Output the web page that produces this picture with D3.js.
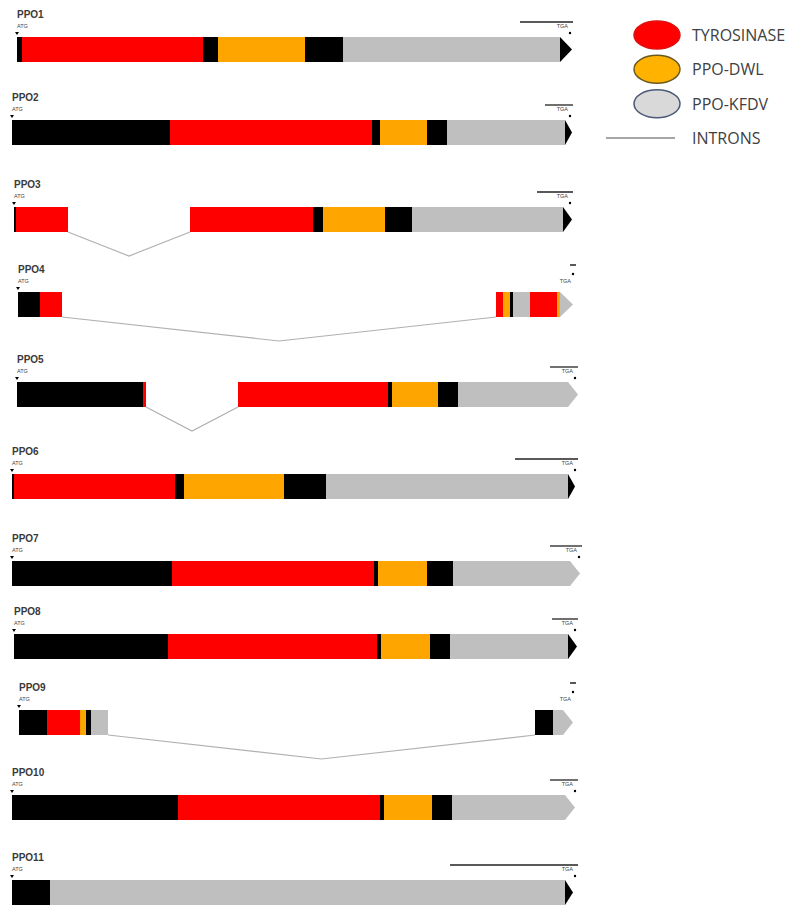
<!DOCTYPE html>
<html>
<head>
<meta charset="utf-8">
<script src="https://cdn.jsdelivr.net/npm/d3@7"></script>
<style>
  body { margin: 0; background: #fff; }
  svg { display: block; }
</style>
</head>
<body>
<div class="myBox"></div>
<script>

// gene names, one row each
var genes = ["PPO1","PPO2","PPO3","PPO4","PPO5","PPO6","PPO7","PPO8","PPO9","PPO10","PPO11"];

// exons per gene, each exon is a list of [start, end, domain]
// X = other, T = tyrosinase, D = PPO-DWL, K = PPO-KFDV
var exons = [
  [[[17,22,"X"],[22,203,"T"],[203,218,"X"],[218,305,"D"],[305,343,"X"],[343,560,"K"]]],
  [[[12,170,"X"],[170,372,"T"],[372,380,"X"],[380,427,"D"],[427,447,"X"],[447,565,"K"]]],
  [[[14,16,"X"],[16,68,"T"]],
   [[190,313,"T"],[313,323,"X"],[323,385,"D"],[385,412,"X"],[412,563,"K"]]],
  [[[18,40,"X"],[40,62,"T"]],
   [[496,503,"T"],[503,510,"D"],[510,513,"X"],[513,530,"K"],[530,557,"T"],[557,560,"D"]]],
  [[[17,143,"X"],[143,146,"T"]],
   [[238,388,"T"],[388,392,"X"],[392,438,"D"],[438,458,"X"],[458,568,"K"]]],
  [[[12,14,"X"],[14,175,"T"],[175,184,"X"],[184,284,"D"],[284,326,"X"],[326,568,"K"]]],
  [[[12,172,"X"],[172,374,"T"],[374,378,"X"],[378,427,"D"],[427,453,"X"],[453,570,"K"]]],
  [[[14,168,"X"],[168,377,"T"],[377,381,"X"],[381,430,"D"],[430,450,"X"],[450,568,"K"]]],
  [[[19,47,"X"],[47,80,"T"],[80,86,"D"],[86,88,"X"],[88,91,"X"],[91,108,"K"]],
   [[535,553,"X"],[553,563,"K"]]],
  [[[12,178,"X"],[178,380,"T"],[380,384,"X"],[384,432,"D"],[432,452,"X"],[452,565,"K"]]],
  [[[12,50,"X"],[50,565,"K"]]]
];

// arrow tip at the 3' end: end position and colour domain
var tipEnd = [572,572,572,573,578,575,580,577,573,575,573];
var tipType = ["X","X","X","K","K","X","K","X","K","K","X"];

// line above the stop codon (start, end)
var tgaLine = [[520,573],[545,573],[537,573],[570,576],[550,578],[515,578],[550,582],[552,578],[570,576],[550,578],[450,578]];

var legendNames = ["TYROSINASE","PPO-DWL","PPO-KFDV","INTRONS"];

var width = 790, height = 907;
var barH = 25;
var rowTop = [37,120,207,292,382,474,561,634,710,795,880];

var color = {
  X: "#000000",
  T: "#ff0000",
  D: "#ffa500",
  K: "#bfbfbf"
};

var svg = d3.select(".myBox")
  .append("svg")
  .attr("width", width)
  .attr("height", height);

var x = d3.scaleLinear().domain([0, 790]).range([0, 790]);
var y = d3.scaleOrdinal().domain(genes).range(rowTop);

var row = svg.selectAll("g.gene")
  .data(genes)
  .enter().append("g")
    .attr("class", "gene")
    .attr("transform", function(d) { return "translate(0," + y(d) + ")"; });

// introns first so exons sit on top
row.each(function(name, i) {
  var g = d3.select(this);
  var ex = exons[i];
  for (var k = 0; k < ex.length - 1; k++) {
    var a = ex[k][ex[k].length - 1][1];
    var b = ex[k + 1][0][0];
    g.append("polyline")
      .attr("points", [[x(a), barH], [x((a + b) / 2), barH + 24], [x(b), barH]].map(function(p) { return p.join(","); }).join(" "))
      .attr("fill", "none")
      .attr("stroke", "#b0b0b0")
      .attr("stroke-width", 1.2);
  }
});

row.each(function(name, i) {
  var g = d3.select(this);
  var segs = [].concat.apply([], exons[i]);
  g.selectAll("rect")
    .data(segs)
    .enter().append("rect")
      .attr("x", function(d) { return x(d[0]); })
      .attr("y", 0)
      .attr("width", function(d) { return x(d[1]) - x(d[0]); })
      .attr("height", barH)
      .attr("fill", function(d) { return color[d[2]]; });

  var last = exons[i][exons[i].length - 1];
  var end = last[last.length - 1][1];
  g.append("path")
    .attr("d", "M" + x(end) + ",0L" + x(tipEnd[i]) + "," + barH / 2 + "L" + x(end) + "," + barH + "Z")
    .attr("fill", color[tipType[i]]);

  // labels
  var start = exons[i][0][0][0];
  g.append("text")
    .attr("x", x(start))
    .attr("y", -19)
    .attr("font-family", "Liberation Sans, Arial, sans-serif")
    .attr("font-weight", "bold")
    .attr("font-size", 10)
    .attr("fill", "#3a3a3a")
    .text(name);
  g.append("text")
    .attr("x", x(start))
    .attr("y", -9)
    .attr("font-family", "Liberation Sans, Arial, sans-serif")
    .attr("font-size", 5.5)
    .attr("fill", "#444")
    .text("ATG");
  g.append("path")
    .attr("d", "M" + (x(start) - 2) + ",-5L" + (x(start) + 2) + ",-5L" + x(start) + ",-2Z")
    .attr("fill", "#000");

  // stop codon mark
  var t = tgaLine[i];
  var short = t[1] - t[0] < 10;
  g.append("line")
    .attr("x1", x(t[0])).attr("x2", x(t[1]))
    .attr("y1", short ? -27 : -15).attr("y2", short ? -27 : -15)
    .attr("stroke", "#222")
    .attr("stroke-width", short ? 1.5 : 1.3);
  g.append("text")
    .attr("x", x(t[1]) - 5)
    .attr("y", -9)
    .attr("text-anchor", "end")
    .attr("font-family", "Liberation Sans, Arial, sans-serif")
    .attr("font-size", 5.5)
    .attr("fill", "#444")
    .text("TGA");
  g.append("circle")
    .attr("cx", x(t[1]) - 3)
    .attr("cy", short ? -18 : -4)
    .attr("r", 1.2)
    .attr("fill", "#000");
});

// legend
var ly = d3.scalePoint().domain(legendNames).range([35, 138]);
var legendFill = ["#ff0000", "#ffb300", "#d9d9d9"];
var legendStroke = ["#e01010", "#6b5a20", "#4a5a78"];

var leg = svg.append("g").attr("class", "legend");
leg.selectAll("ellipse")
  .data(legendNames.slice(0, 3))
  .enter().append("ellipse")
    .attr("cx", 657)
    .attr("cy", function(d) { return ly(d); })
    .attr("rx", 23)
    .attr("ry", 14)
    .attr("fill", function(d, i) { return legendFill[i]; })
    .attr("stroke", function(d, i) { return legendStroke[i]; })
    .attr("stroke-width", 1.5);
leg.append("line")
  .attr("x1", 606).attr("x2", 675)
  .attr("y1", ly("INTRONS")).attr("y2", ly("INTRONS"))
  .attr("stroke", "#a6a6a6")
  .attr("stroke-width", 2);
leg.selectAll("text")
  .data(legendNames)
  .enter().append("text")
    .attr("x", 692)
    .attr("y", function(d) { return ly(d) + 6; })
    .attr("font-family", "Open Sans, sans-serif")
    .attr("font-size", 16)
    .attr("fill", "#404040")
    .text(function(d) { return d; });

</script>
</body>
</html>
